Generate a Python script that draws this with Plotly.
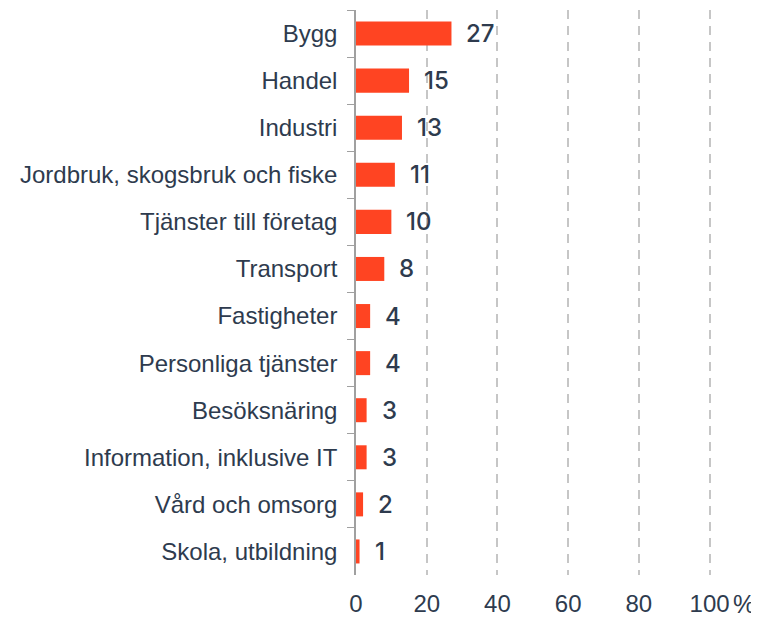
import plotly.graph_objects as go

categories = ["Bygg", "Handel", "Industri", "Jordbruk, skogsbruk och fiske",
              "Tjänster till företag", "Transport", "Fastigheter",
              "Personliga tjänster", "Besöksnäring", "Information, inklusive IT",
              "Vård och omsorg", "Skola, utbildning"]
values = [27, 15, 13, 11, 10, 8, 4, 4, 3, 3, 2, 1]
tick_vals = [0, 20, 40, 60, 80, 100]
tick_text = ["0", "20", "40", "60", "80", "100"]
unit_label = "%"

fig = go.Figure()
fig.add_trace(go.Bar(
    y=categories, x=values, orientation="h",
    marker=dict(color="#FF4422", line=dict(width=0)),
    hoverinfo="skip",
))
for c, v in zip(categories, values):
    fig.add_annotation(x=v, y=c, text=str(v), showarrow=False,
                       xanchor="left", xshift=13,
                       font=dict(family="Inter", size=24, weight=500, color="#2E3B4E"))

# unit sign placed right after the last tick label
fig.add_annotation(x=tick_vals[-1], y=0, xref="x", yref="paper", text=unit_label,
                   showarrow=False, xanchor="left", yanchor="middle",
                   xshift=21, yshift=-29,
                   font=dict(family="Liberation Sans, Arial", size=25, color="#2E3B4E"))

# page body adds an 8px margin, so the figure is sized to fit the window
fig.update_layout(
    width=751, height=612,
    margin=dict(l=348, r=48, t=2, b=45),
    plot_bgcolor="white", paper_bgcolor="white",
    bargap=0.49, showlegend=False,
    font=dict(family="Liberation Sans, Arial", color="#2E3B4E"),
)
fig.update_xaxes(
    range=[0, 100.4], tickvals=tick_vals, ticktext=tick_text,
    showgrid=True, gridcolor="#C6C6C6", gridwidth=2, griddash="9px,7px",
    zeroline=False, showline=False, ticks="", automargin=False,
    tickfont=dict(size=24, family="Liberation Sans, Arial", color="#2E3B4E"),
    ticklabelstandoff=12,
)
fig.update_yaxes(
    categoryorder="array", categoryarray=categories, autorange="reversed",
    showline=True, linecolor="#A0A0A0", linewidth=1.5, automargin=False,
    ticks="outside", tickson="boundaries", ticklen=7, tickcolor="#A0A0A0",
    tickfont=dict(size=24, family="Liberation Sans, Arial", color="#2E3B4E"),
    showgrid=False, ticklabelstandoff=12,
)
fig.write_html("out.html")
